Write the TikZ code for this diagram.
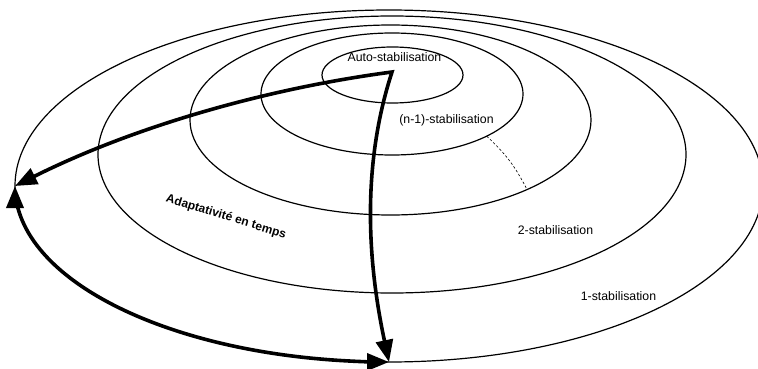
\documentclass[tikz,border=0pt]{standalone}
\usepackage{fontspec}
\setmainfont{Liberation Sans}
\usetikzlibrary{shapes.geometric, arrows.meta, positioning}
\tikzstyle{ring} = [ellipse, draw=black, line width=1.2pt, inner sep=0pt, outer sep=0pt]
\tikzstyle{stabtext} = [font=\fontsize{12.3}{14}\selectfont, anchor=base, inner sep=0pt]
\tikzstyle{twoway} = [line width=3.6pt, line join=miter, {Triangle[length=22pt,width=17pt]}-{Triangle[length=22pt,width=17pt]}]

\begin{document}
\begin{tikzpicture}[x=1pt, y=-1pt]
\useasboundingbox (0,0) rectangle (758,369);
\clip (0,0) rectangle (758,369);
% Define nodes
\node (ringOne) [ring, minimum width=748pt, minimum height=352pt] at (389,186) {};
\node (ringTwo) [ring, minimum width=588pt, minimum height=277pt] at (392,154.5) {};
\node (ringThree) [ring, minimum width=401pt, minimum height=190pt] at (390.5,120) {};
\node (ringN) [ring, minimum width=262pt, minimum height=122pt] at (392,94) {};
\node (ringAuto) [ring, minimum width=141pt, minimum height=56pt] at (392.5,75) {};
\coordinate (hub) at (392,72);
\node (autoText) [stabtext] at (394.5,62) {Auto-stabilisation};
\node (nText) [stabtext] at (446.5,124) {(n-1)-stabilisation};
\node (twoText) [stabtext] at (555.5,234) {2-stabilisation};
\node (oneText) [stabtext] at (618.5,300) {1-stabilisation};
\node (adaptText) [font=\bfseries\fontsize{12}{14}\selectfont, rotate=-17] at (226,217) {Adaptativité en temps};
% Connect nodes with arrows
\draw [twoway] (ringOne.west) .. controls +(116,-58) and +(-129,17) .. (hub)
  .. controls +(-31,95) and +(-21,-98) .. (ringOne.south);
\draw [twoway] (ringOne.west) arc[start angle=180, end angle=171, x radius=374, y radius=176]
  arc[start angle=171, end angle=97, x radius=374, y radius=176]
  arc[start angle=97, end angle=90, x radius=374, y radius=176];
\draw [dashed, line width=0.6pt, dash pattern=on 2.5pt off 2pt] (ringN.-24.5) to[bend left=10] (ringThree.-27.5);
\end{tikzpicture}
\end{document}
